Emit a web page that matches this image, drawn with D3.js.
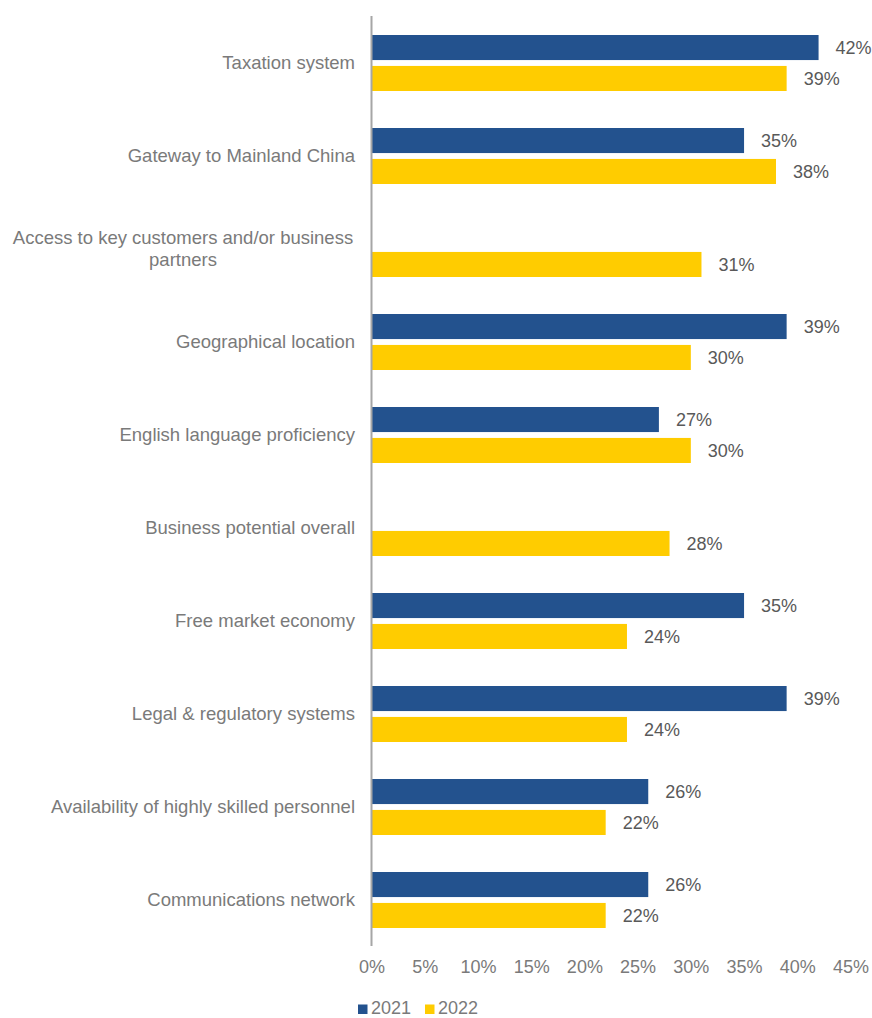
<!DOCTYPE html>
<html>
<head>
<meta charset="utf-8">
<script src="https://cdn.jsdelivr.net/npm/d3@7"></script>
<style>
  html, body { margin: 0; padding: 0; background: #fff; }
  svg { display: block; font-family: "Liberation Sans", Arial, sans-serif; }
</style>
</head>
<body>
<svg id="chart" width="872" height="1018"></svg>
<script>
// Reasons for choosing the location, share of respondents by year
const categories = [
  ["Taxation system"],
  ["Gateway to Mainland China"],
  ["Access to key customers and/or business", "partners"],
  ["Geographical location"],
  ["English language proficiency"],
  ["Business potential overall"],
  ["Free market economy"],
  ["Legal & regulatory systems"],
  ["Availability of highly skilled personnel"],
  ["Communications network"]
];
const values2021 = [42, 35, null, 39, 27, null, 35, 39, 26, 26];
const values2022 = [39, 38, 31, 30, 30, 28, 24, 24, 22, 22];
const seriesNames = ["2021", "2022"];
const xTicks = [0, 5, 10, 15, 20, 25, 30, 35, 40, 45];

const colors = { "2021": "#23528E", "2022": "#FFCC00" };

const svg = d3.select("#chart");
const x0 = 371.5, x1 = 850.5, yTop = 16, yBottom = 946;

const x = d3.scaleLinear().domain([0, 45]).range([x0, x1]);
const y = d3.scaleBand().domain(d3.range(categories.length)).range([yTop, yBottom]).paddingInner(0).paddingOuter(0);
const inner = d3.scaleBand().domain(seriesNames).range([19, 75]).paddingInner(0.19);

const series = [
  { name: "2021", values: values2021 },
  { name: "2022", values: values2022 }
];

// Bars with value labels
series.forEach(s => {
  const g = svg.append("g");
  s.values.forEach((v, i) => {
    if (v == null) return;
    const by = y(i) + inner(s.name);
    g.append("rect")
      .attr("x", x(0))
      .attr("y", by)
      .attr("width", x(v) - x(0))
      .attr("height", inner.bandwidth())
      .attr("fill", colors[s.name]);
    g.append("text")
      .attr("x", x(v) + 17)
      .attr("y", by + inner.bandwidth() / 2)
      .attr("dy", "0.36em")
      .attr("font-size", 18)
      .attr("fill", "#595959")
      .text(v + "%");
  });
});

// Category labels
categories.forEach((lines, i) => {
  const cy = y(i) + y.bandwidth() / 2 - 0.5;
  const t = svg.append("text")
    .attr("text-anchor", lines.length > 1 ? "middle" : "end")
    .attr("font-size", 18.5)
    .attr("fill", "#7a7a7a");
  const lx = lines.length > 1 ? 183 : 355;
  lines.forEach((ln, j) => {
    t.append("tspan")
      .attr("x", lx)
      .attr("y", cy + (j - (lines.length - 1) / 2) * 22)
      .attr("dy", "0.36em")
      .text(ln);
  });
});

// Vertical axis line
svg.append("line")
  .attr("x1", x(0)).attr("x2", x(0))
  .attr("y1", yTop).attr("y2", yBottom)
  .attr("stroke", "#a6a6a6").attr("stroke-width", 2);

// X axis tick labels
const xAxis = d3.axisBottom(x).tickValues(xTicks).tickFormat(d => d + "%").tickSize(0).tickPadding(0);
const ga = svg.append("g").attr("transform", `translate(0, 960)`).call(xAxis);
ga.select(".domain").remove();
ga.selectAll("text")
  .attr("font-size", 18)
  .attr("fill", "#7a7a7a")
  .attr("font-family", "Liberation Sans, Arial, sans-serif");

// Legend
const legend = svg.append("g");
const legendItems = [{ name: "2021", x: 358 }, { name: "2022", x: 425 }];
legendItems.forEach(it => {
  legend.append("rect")
    .attr("x", it.x).attr("y", 1004.5)
    .attr("width", 9.5).attr("height", 9.5)
    .attr("fill", colors[it.name]);
  legend.append("text")
    .attr("x", it.x + 13).attr("y", 1014)
    .attr("font-size", 18)
    .attr("fill", "#7a7a7a")
    .text(it.name);
});
</script>
</body>
</html>
